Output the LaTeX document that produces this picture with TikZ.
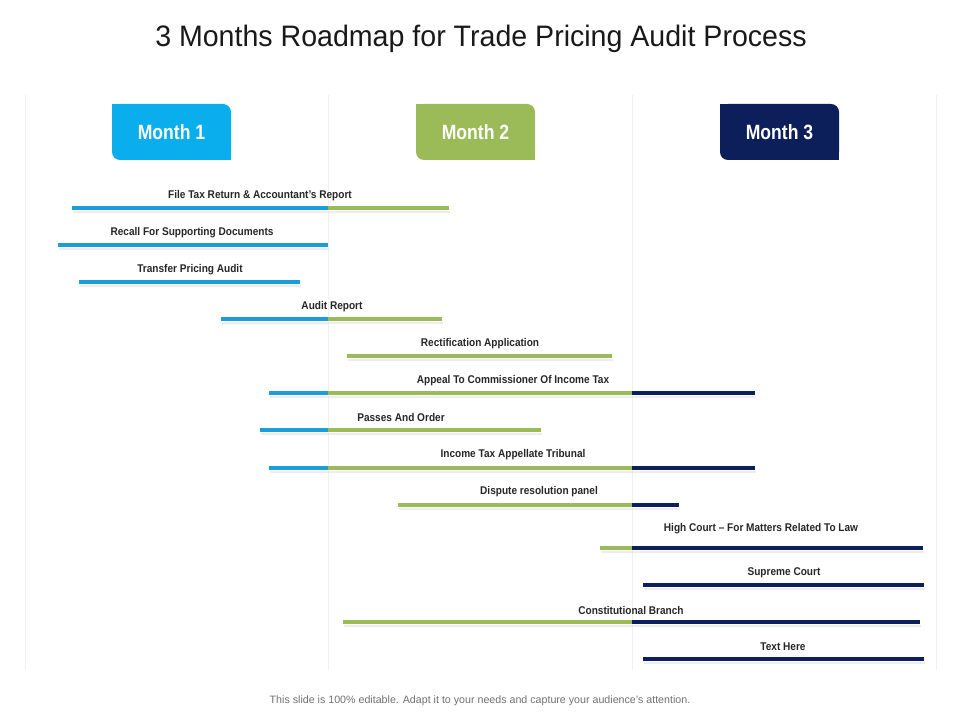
\documentclass[tikz,border=0pt]{standalone}
\usepackage{fontspec}
\setmainfont{Liberation Sans}
\newfontfamily\narrowfont[FakeStretch=0.9]{Liberation Sans}
\newfontfamily\tabfont[FakeStretch=0.85]{Liberation Sans}
\newfontfamily\titlefont[FakeStretch=0.965]{Liberation Sans}
\usetikzlibrary{positioning}
\definecolor{mblue}{HTML}{1A9DD9}
\definecolor{mcyan}{HTML}{0BAEEC}
\definecolor{mgreen}{HTML}{9BBB59}
\definecolor{mnavy}{HTML}{0C1F5B}
\definecolor{grid}{HTML}{F0F0F0}
\definecolor{ink}{HTML}{262626}
\definecolor{note}{HTML}{707070}

\begin{document}
\begin{tikzpicture}[x=0.75pt,y=-0.75pt,
  tab/.style={minimum width=89.25pt,minimum height=42pt,rounded corners=6pt,inner sep=0pt,
    text=white,font=\tabfont\bfseries\fontsize{15.5}{18}\selectfont},
  rowlab/.style={font=\narrowfont\bfseries\fontsize{8.4}{10}\selectfont,text=ink,inner sep=0pt},
  seg/.style={line width=3.4pt},
  shade/.style={line width=2.2pt,draw=black!10,opacity=0.7}
]
  \useasboundingbox (0,0) rectangle (960,720);
  % title and note
  \node[anchor=base,font=\titlefont\fontsize{22.2}{26}\selectfont,text=black!90] (title) at (481,47)
    {3 Months Roadmap for Trade Pricing Audit Process};
  \node[font=\fontsize{8}{9}\selectfont,text=note] (note) at (480,701)
    {This slide is 100\% editable. Adapt it to your needs and capture your audience's attention.};
  % column rules
  \foreach \x in {25,328,632,936}
    \draw[grid,line width=0.6pt] (\x,95) -- (\x,670);
  % month tabs
  \foreach \x/\c/\n in {171.5/mcyan/1,475.5/mgreen/2,779.5/mnavy/3} {
    \node[tab,fill=\c] (m\n) at (\x,132) {Month \n};
    \fill[\c] (m\n.north west) rectangle ++(10,10);
    \fill[\c] (m\n.south east) rectangle ++(-10,-10);
  }
  % bars
  \foreach \y/\segs in {
    208/{72/328/mblue,328/449/mgreen},
    245/{58/328/mblue},
    282/{79/300/mblue},
    319/{221/328/mblue,328/442/mgreen},
    356/{347/612/mgreen},
    393/{269/328/mblue,328/632/mgreen,632/755/mnavy},
    430/{260/328/mblue,328/541/mgreen},
    468/{269/328/mblue,328/632/mgreen,632/755/mnavy},
    505/{398/632/mgreen,632/679/mnavy},
    548/{600/632/mgreen,632/923/mnavy},
    585/{643/924/mnavy},
    622/{343/632/mgreen,632/920/mnavy},
    659/{643/924/mnavy}}
    \foreach \a/\b/\c in \segs {
      \draw[shade] (\a+1,\y+4) -- (\b+1,\y+4);
      \draw[seg,\c] (\a,\y) -- (\b,\y);
    }
  % bar labels
  \foreach \x/\y/\t [count=\i] in {
    260/194/{File Tax Return \& Accountant’s Report},
    192/231/{Recall For Supporting Documents},
    190/268/{Transfer Pricing Audit},
    332/305/{Audit Report},
    480/342/{Rectification Application},
    513/379/{Appeal To Commissioner Of Income Tax},
    401/415/{Passes And Order},
    513/453/{Income Tax Appellate Tribunal},
    539/490/{Dispute resolution panel},
    761/527/{High Court – For Matters Related To Law},
    784/571/{Supreme Court},
    631/608/{Constitutional Branch},
    783/645/{Text Here}}
    \node[rowlab,yshift=-1.5pt] (lab\i) at (\x,\y) {\t};
\end{tikzpicture}
\end{document}
